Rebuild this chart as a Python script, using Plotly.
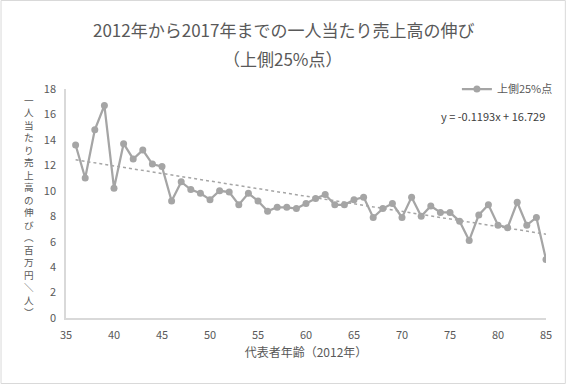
import plotly.graph_objects as go

ages = list(range(36, 86))
growth = [13.6, 11.0, 14.8, 16.7, 10.2, 13.7, 12.5, 13.2, 12.1, 11.9,
          9.2, 10.7, 10.1, 9.8, 9.3, 10.0, 9.9, 8.9, 9.8, 9.2,
          8.4, 8.7, 8.7, 8.6, 9.0, 9.4, 9.7, 8.9, 8.9, 9.3,
          9.5, 7.9, 8.6, 9.0, 7.9, 9.5, 8.0, 8.8, 8.3, 8.3,
          7.6, 6.1, 8.1, 8.9, 7.3, 7.1, 9.1, 7.3, 7.9, 4.6]
trend_slope = -0.1193
trend_intercept = 16.729
series_name = "上側25%点"
title_lines = ["2012年から2017年までの一人当たり売上高の伸び", "（上側25%点）"]
x_title = "代表者年齢（2012年）"
y_title_chars = ["一", "人", "当", "た", "り", "売", "上", "高", "の", "伸", "び",
                 "︵", "百", "万", "円", "＼", "人", "︶"]

GRAY = "#a5a5a5"
TXT = "#595959"
FONT = "Noto Sans CJK JP, Noto Sans, sans-serif"

W, H = 570, 384
L, R, T, B = 66, 20, 89, 66
pw, ph = W - L - R, H - T - B


def to_paper(x, y):
    return (x - L) / pw, (H - B - y) / ph


fig = go.Figure()
trend_y = [trend_slope * a + trend_intercept for a in ages]
fig.add_trace(go.Scatter(x=ages, y=trend_y, mode="lines",
                         line=dict(color=GRAY, width=1.5, dash="dot"),
                         showlegend=False, hoverinfo="skip"))
fig.add_trace(go.Scatter(x=ages, y=growth, mode="lines+markers", name=series_name,
                         line=dict(color=GRAY, width=2.25),
                         marker=dict(color=GRAY, size=7)))

out = []
for text, px, py, size, col in [
    (title_lines[0], W / 2, 30, 17, TXT),
    (title_lines[1], W / 2, 58, 17, TXT),
    (f"y = {trend_slope}x + {trend_intercept}", 497, 116, 11, "#404040"),
    ("<br>".join(y_title_chars), 29, 206, 9.6, TXT),
]:
    xp, yp = to_paper(px, py)
    out.append(dict(text=text, x=xp, y=yp, xref="paper", yref="paper", showarrow=False,
                    xanchor="center", yanchor="middle",
                    font=dict(size=size, color=col, family=FONT)))

fig.update_layout(
    width=W, height=H,
    margin=dict(l=L, r=R, t=T, b=B),
    paper_bgcolor="white", plot_bgcolor="white",
    font=dict(family=FONT, color=TXT, size=11),
    showlegend=True,
    legend=dict(x=to_paper(562, 0)[0], y=to_paper(0, 89)[1], xanchor="right", yanchor="middle",
                bgcolor="rgba(0,0,0,0)", font=dict(size=11, color=TXT, family=FONT),
                itemwidth=30),
    annotations=out,
    xaxis=dict(range=[35, 85], dtick=5, tick0=35, showgrid=False, zeroline=False,
               showline=True, linecolor="#d9d9d9", linewidth=1.5, ticks="",
               tickfont=dict(size=11, color=TXT), ticklabelstandoff=6,
               title=dict(text=x_title, font=dict(size=12, color=TXT), standoff=8)),
    yaxis=dict(range=[0, 18], dtick=2, showgrid=False, zeroline=False,
               showline=True, linecolor="#d9d9d9", linewidth=1.5, ticks="",
               tickfont=dict(size=11, color=TXT), ticklabelstandoff=6),
    shapes=[dict(type="rect", xref="paper", yref="paper",
                 x0=to_paper(0.5, 0)[0], x1=to_paper(W - 0.5, 0)[0],
                 y0=to_paper(0, H - 0.5)[1], y1=to_paper(0, 0.5)[1],
                 line=dict(color="#d9d9d9", width=1), layer="below")],
)

fig.write_html("out.html", config={"displayModeBar": False},
               post_script="document.body.style.margin='0px';"
                           "document.body.style.overflow='hidden';"
                           "document.documentElement.style.overflow='hidden';")
